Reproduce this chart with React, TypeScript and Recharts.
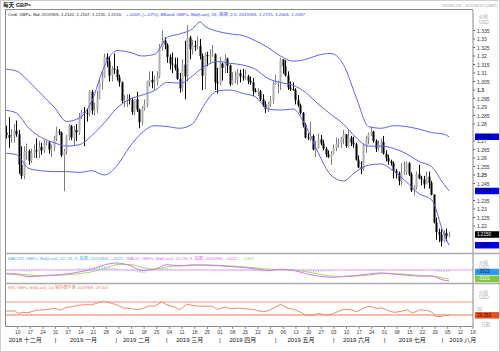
import React from "react";
import { Bar, ComposedChart, Line, ReferenceLine, XAxis, YAxis } from "recharts";

// daily candles, 2018-12-03 .. 2019-08-06 (trading days)
const opens = [
  1.2750, 1.2735, 1.2718, 1.2730, 1.2760, 1.2740, 1.2560, 1.2495, 1.2635, 1.2640,
  1.2585, 1.2630, 1.2645, 1.2640, 1.2665, 1.2645, 1.2690, 1.2692, 1.2650, 1.2660,
  1.2715, 1.2755, 1.2750, 1.2615, 1.2640, 1.2725, 1.2790, 1.2720, 1.2765, 1.2750,
  1.2840, 1.2870, 1.2865, 1.2860, 1.2990, 1.2880, 1.2885, 1.2950, 1.3045, 1.3075,
  1.3195, 1.3170, 1.3085, 1.3125, 1.3120, 1.3075, 1.3045, 1.2935, 1.2938, 1.2945,
  1.2940, 1.2870, 1.2945, 1.2885, 1.2810, 1.2895, 1.2915, 1.3050, 1.3060, 1.3045,
  1.3050, 1.3080, 1.3250, 1.3290, 1.3265, 1.3195, 1.3155, 1.3150, 1.3130, 1.3065,
  1.3010, 1.3150, 1.3080, 1.3310, 1.3240, 1.3260, 1.3255, 1.3258, 1.3200, 1.3085,
  1.3205, 1.3200, 1.3205, 1.3210, 1.3045, 1.3040, 1.3155, 1.3130, 1.3185, 1.3145,
  1.3035, 1.3060, 1.3062, 1.3100, 1.3080, 1.3075, 1.3080, 1.3055, 1.3045, 1.2995,
  1.2990, 1.2992, 1.2945, 1.2915, 1.2890, 1.2920, 1.2940, 1.3035, 1.3045, 1.3048,
  1.3180, 1.3140, 1.3085, 1.3015, 1.3005, 1.3000, 1.2940, 1.2910, 1.2865, 1.2795,
  1.2720, 1.2715, 1.2730, 1.2650, 1.2655, 1.2710, 1.2685, 1.2655, 1.2620, 1.2605,
  1.2625, 1.2660, 1.2685, 1.2690, 1.2715, 1.2740, 1.2670, 1.2720, 1.2690, 1.2680,
  1.2590, 1.2545, 1.2535, 1.2670, 1.2715, 1.2740, 1.2755, 1.2700, 1.2655, 1.2680,
  1.2695, 1.2625, 1.2600, 1.2580, 1.2570, 1.2525, 1.2510, 1.2465, 1.2515, 1.2518,
  1.2570, 1.2505, 1.2410, 1.2430, 1.2505, 1.2480, 1.2475, 1.2445, 1.2490, 1.2455,
  1.2385, 1.2220, 1.2165, 1.2150, 1.2110, 1.2160, 1.2142,
];
const highs = [
  1.2790, 1.2840, 1.2770, 1.2800, 1.2820, 1.2765, 1.2669, 1.2670, 1.2685, 1.2650,
  1.2655, 1.2680, 1.2715, 1.2700, 1.2690, 1.2705, 1.2700, 1.2700, 1.2680, 1.2730,
  1.2785, 1.2770, 1.2755, 1.2655, 1.2735, 1.2800, 1.2795, 1.2790, 1.2800, 1.2865,
  1.2885, 1.2900, 1.2890, 1.3000, 1.3000, 1.2925, 1.2995, 1.3070, 1.3110, 1.3215,
  1.3215, 1.3200, 1.3140, 1.3215, 1.3140, 1.3090, 1.3050, 1.2970, 1.2975, 1.2975,
  1.2955, 1.2945, 1.2990, 1.2890, 1.2905, 1.2945, 1.3055, 1.3110, 1.3110, 1.3085,
  1.3110, 1.3270, 1.3350, 1.3310, 1.3275, 1.3210, 1.3220, 1.3190, 1.3190, 1.3100,
  1.3180, 1.3290, 1.3380, 1.3320, 1.3295, 1.3290, 1.3315, 1.3300, 1.3215, 1.3220,
  1.3225, 1.3240, 1.3265, 1.3215, 1.3130, 1.3195, 1.3160, 1.3210, 1.3190, 1.3150,
  1.3105, 1.3110, 1.3125, 1.3120, 1.3125, 1.3120, 1.3090, 1.3080, 1.3070, 1.3010,
  1.3010, 1.3000, 1.2975, 1.2935, 1.2930, 1.2965, 1.3050, 1.3090, 1.3055, 1.3190,
  1.3180, 1.3175, 1.3110, 1.3050, 1.3045, 1.3010, 1.2970, 1.2920, 1.2870, 1.2805,
  1.2745, 1.2815, 1.2740, 1.2700, 1.2745, 1.2735, 1.2705, 1.2665, 1.2645, 1.2640,
  1.2680, 1.2720, 1.2715, 1.2725, 1.2765, 1.2740, 1.2765, 1.2730, 1.2725, 1.2690,
  1.2615, 1.2580, 1.2685, 1.2730, 1.2750, 1.2785, 1.2760, 1.2710, 1.2705, 1.2715,
  1.2730, 1.2645, 1.2620, 1.2590, 1.2580, 1.2535, 1.2520, 1.2570, 1.2580, 1.2580,
  1.2575, 1.2515, 1.2440, 1.2520, 1.2560, 1.2495, 1.2495, 1.2520, 1.2520, 1.2465,
  1.2385, 1.2250, 1.2185, 1.2180, 1.2175, 1.2185, 1.2167,
];
const lows = [
  1.2715, 1.2660, 1.2690, 1.2690, 1.2725, 1.2507, 1.2477, 1.2476, 1.2590, 1.2560,
  1.2570, 1.2600, 1.2600, 1.2600, 1.2620, 1.2630, 1.2675, 1.2625, 1.2605, 1.2640,
  1.2700, 1.2735, 1.2605, 1.2405, 1.2620, 1.2705, 1.2705, 1.2675, 1.2700, 1.2735,
  1.2830, 1.2670, 1.2815, 1.2845, 1.2855, 1.2850, 1.2865, 1.2945, 1.3000, 1.3070,
  1.3135, 1.3050, 1.3050, 1.3095, 1.3055, 1.3020, 1.2920, 1.2900, 1.2900, 1.2915,
  1.2855, 1.2850, 1.2870, 1.2775, 1.2790, 1.2880, 1.2900, 1.3020, 1.3010, 1.3000,
  1.3025, 1.3070, 1.3230, 1.3240, 1.3160, 1.3120, 1.3100, 1.3115, 1.3060, 1.2985,
  1.2990, 1.2945, 1.3050, 1.3180, 1.3210, 1.3230, 1.3240, 1.3180, 1.3000, 1.3005,
  1.3140, 1.3160, 1.3195, 1.3000, 1.2980, 1.3030, 1.3055, 1.3100, 1.3100, 1.3025,
  1.3030, 1.3040, 1.3030, 1.3045, 1.3055, 1.3060, 1.3035, 1.3030, 1.2965, 1.2985,
  1.2965, 1.2935, 1.2900, 1.2865, 1.2870, 1.2900, 1.2920, 1.3030, 1.2980, 1.3000,
  1.3095, 1.3080, 1.3000, 1.2995, 1.2995, 1.2915, 1.2900, 1.2855, 1.2780, 1.2715,
  1.2705, 1.2700, 1.2645, 1.2605, 1.2655, 1.2675, 1.2645, 1.2605, 1.2600, 1.2560,
  1.2620, 1.2640, 1.2660, 1.2660, 1.2680, 1.2660, 1.2665, 1.2670, 1.2660, 1.2585,
  1.2540, 1.2505, 1.2525, 1.2630, 1.2680, 1.2730, 1.2690, 1.2635, 1.2640, 1.2630,
  1.2620, 1.2580, 1.2560, 1.2555, 1.2480, 1.2480, 1.2440, 1.2440, 1.2500, 1.2500,
  1.2495, 1.2400, 1.2380, 1.2415, 1.2475, 1.2440, 1.2420, 1.2445, 1.2420, 1.2380,
  1.2215, 1.2120, 1.2105, 1.2080, 1.2105, 1.2110, 1.2131,
];
const closes = [
  1.2735, 1.2718, 1.2730, 1.2760, 1.2740, 1.2560, 1.2495, 1.2635, 1.2640, 1.2585,
  1.2630, 1.2645, 1.2640, 1.2665, 1.2645, 1.2690, 1.2692, 1.2650, 1.2660, 1.2715,
  1.2755, 1.2750, 1.2615, 1.2640, 1.2725, 1.2790, 1.2720, 1.2765, 1.2750, 1.2840,
  1.2870, 1.2865, 1.2860, 1.2990, 1.2880, 1.2885, 1.2950, 1.3045, 1.3075, 1.3195,
  1.3170, 1.3085, 1.3125, 1.3120, 1.3075, 1.3045, 1.2935, 1.2938, 1.2945, 1.2940,
  1.2870, 1.2945, 1.2885, 1.2810, 1.2895, 1.2915, 1.3050, 1.3060, 1.3045, 1.3050,
  1.3080, 1.3250, 1.3290, 1.3265, 1.3195, 1.3155, 1.3150, 1.3130, 1.3065, 1.3010,
  1.3150, 1.3080, 1.3310, 1.3240, 1.3260, 1.3255, 1.3258, 1.3200, 1.3085, 1.3205,
  1.3200, 1.3205, 1.3210, 1.3045, 1.3040, 1.3155, 1.3130, 1.3185, 1.3145, 1.3035,
  1.3060, 1.3062, 1.3100, 1.3080, 1.3075, 1.3080, 1.3055, 1.3045, 1.2995, 1.2990,
  1.2992, 1.2945, 1.2915, 1.2890, 1.2920, 1.2940, 1.3035, 1.3045, 1.3048, 1.3180,
  1.3140, 1.3085, 1.3015, 1.3005, 1.3000, 1.2940, 1.2910, 1.2865, 1.2795, 1.2720,
  1.2715, 1.2730, 1.2650, 1.2655, 1.2710, 1.2685, 1.2655, 1.2620, 1.2605, 1.2625,
  1.2660, 1.2685, 1.2690, 1.2715, 1.2740, 1.2670, 1.2720, 1.2690, 1.2680, 1.2590,
  1.2545, 1.2535, 1.2670, 1.2715, 1.2740, 1.2755, 1.2700, 1.2655, 1.2680, 1.2695,
  1.2625, 1.2600, 1.2580, 1.2570, 1.2525, 1.2510, 1.2465, 1.2515, 1.2518, 1.2570,
  1.2505, 1.2410, 1.2430, 1.2505, 1.2480, 1.2475, 1.2445, 1.2490, 1.2455, 1.2385,
  1.2220, 1.2165, 1.2150, 1.2110, 1.2160, 1.2140, 1.2150,
];

// Bollinger band (26, 2.0) read at sample days
const bbDays = [0, 4, 9, 14, 19, 24, 29, 34, 39, 44, 49, 54, 59, 64, 69, 74, 77, 79, 84, 89, 94, 99, 104, 109, 114, 119, 124, 129, 134, 139, 144, 149, 154, 159, 164, 169, 174, 176];
const bbUpper = [1.3122, 1.3112, 1.3050, 1.2975, 1.2900, 1.2815, 1.2835, 1.2935, 1.3140, 1.3232, 1.3222, 1.3200, 1.3210, 1.3310, 1.3330, 1.3360, 1.3400, 1.3375, 1.3345, 1.3330, 1.3320, 1.3290, 1.3250, 1.3200, 1.3170, 1.3180, 1.3205, 1.3215, 1.3150, 1.2960, 1.2785, 1.2775, 1.2790, 1.2785, 1.2770, 1.2750, 1.2740, 1.2725];
const bbMid = [1.2880, 1.2865, 1.2775, 1.2720, 1.2690, 1.2670, 1.2678, 1.2732, 1.2808, 1.2894, 1.2945, 1.2970, 1.2997, 1.3045, 1.3040, 1.3082, 1.3120, 1.3140, 1.3168, 1.3157, 1.3147, 1.3122, 1.3068, 1.3044, 1.3028, 1.2985, 1.2917, 1.2857, 1.2800, 1.2720, 1.2670, 1.2670, 1.2656, 1.2625, 1.2580, 1.2549, 1.2444, 1.2406];
const bbLower = [1.2628, 1.2620, 1.2538, 1.2525, 1.2520, 1.2520, 1.2515, 1.2525, 1.2500, 1.2555, 1.2665, 1.2750, 1.2790, 1.2785, 1.2775, 1.2800, 1.2870, 1.2920, 1.2995, 1.3000, 1.2980, 1.2960, 1.2888, 1.2882, 1.2888, 1.2790, 1.2630, 1.2500, 1.2465, 1.2520, 1.2558, 1.2565, 1.2522, 1.2460, 1.2390, 1.2355, 1.2150, 1.2087];

// MACD (12, 26, 9)
const macdDays = [0, 4, 9, 14, 19, 24, 29, 34, 39, 44, 49, 54, 59, 64, 69, 74, 79, 84, 89, 94, 99, 104, 109, 114, 119, 124, 129, 134, 139, 144, 149, 154, 159, 164, 169, 174, 176];
const macdLine = [-0.0045, -0.0050, -0.0074, -0.0066, -0.0056, -0.0044, -0.0022, 0.0008, 0.0058, 0.0078, 0.0052, -0.0005, 0.0010, 0.0060, 0.0045, 0.0058, 0.0056, 0.0049, 0.0040, 0.0029, 0.0012, -0.0006, 0.0008, -0.0004, -0.0040, -0.0068, -0.0082, -0.0072, -0.0062, -0.0046, -0.0032, -0.0046, -0.0058, -0.0069, -0.0068, -0.0115, -0.0122];
const macdSignal = [-0.0035, -0.0042, -0.0055, -0.0064, -0.0062, -0.0055, -0.0042, -0.0020, 0.0015, 0.0060, 0.0062, 0.0030, 0.0010, 0.0035, 0.0050, 0.0052, 0.0055, 0.0053, 0.0046, 0.0036, 0.0024, 0.0010, 0.0002, 0.0000, -0.0018, -0.0045, -0.0068, -0.0074, -0.0068, -0.0057, -0.0042, -0.0040, -0.0048, -0.0060, -0.0066, -0.0092, -0.0101];
const macdHist = [
  -0.0010, -0.0009, -0.0008, -0.0007, -0.0008, -0.0010, -0.0016, -0.0016, -0.0017, -0.0019,
  -0.0016, -0.0012, -0.0008, -0.0004, -0.0002, 0.0000, 0.0002, 0.0002, 0.0003, 0.0006,
  0.0008, 0.0008, 0.0004, 0.0005, 0.0011, 0.0013, 0.0010, 0.0013, 0.0013, 0.0020,
  0.0021, 0.0020, 0.0019, 0.0027, 0.0028, 0.0026, 0.0030, 0.0035, 0.0040, 0.0043,
  0.0036, 0.0030, 0.0027, 0.0022, 0.0018, 0.0012, 0.0002, -0.0004, -0.0008, -0.0010,
  -0.0015, -0.0018, -0.0024, -0.0032, -0.0035, -0.0030, -0.0018, -0.0010, -0.0004, 0.0000,
  0.0004, 0.0014, 0.0022, 0.0026, 0.0025, 0.0018, 0.0012, 0.0006, 0.0000, -0.0005,
  -0.0004, -0.0006, 0.0002, 0.0005, 0.0006, 0.0005, 0.0004, 0.0002, -0.0003, 0.0001,
  0.0001, 0.0001, 0.0001, -0.0003, -0.0004, -0.0002, -0.0003, -0.0002, -0.0003, -0.0006,
  -0.0006, -0.0007, -0.0006, -0.0007, -0.0007, -0.0007, -0.0008, -0.0009, -0.0011, -0.0012,
  -0.0012, -0.0013, -0.0015, -0.0017, -0.0016, -0.0012, -0.0005, -0.0002, 0.0000, 0.0006,
  0.0006, 0.0003, 0.0000, -0.0002, -0.0004, -0.0008, -0.0011, -0.0014, -0.0018, -0.0022,
  -0.0023, -0.0021, -0.0023, -0.0024, -0.0023, -0.0021, -0.0019, -0.0017, -0.0016, -0.0014,
  -0.0009, -0.0005, -0.0002, 0.0001, 0.0002, 0.0002, 0.0005, 0.0005, 0.0005, 0.0006,
  0.0003, 0.0001, 0.0005, 0.0009, 0.0011, 0.0013, 0.0012, 0.0010, 0.0010, 0.0010,
  0.0005, 0.0001, -0.0002, -0.0004, -0.0006, -0.0007, -0.0009, -0.0009, -0.0010, -0.0010,
  -0.0009, -0.0011, -0.0012, -0.0010, -0.0009, -0.0007, -0.0006, -0.0004, -0.0003, -0.0002,
  -0.0010, -0.0016, -0.0020, -0.0023, -0.0023, -0.0022, -0.0022,
];

// RSI (14)
const rsiDays = [0, 2, 4, 5, 7, 9, 12, 14, 17, 19, 22, 24, 27, 29, 32, 34, 37, 39, 42, 44, 47, 49, 52, 54, 57, 59, 62, 64, 67, 69, 72, 74, 77, 79, 82, 84, 87, 89, 92, 94, 97, 99, 102, 104, 107, 109, 112, 114, 117, 119, 122, 124, 127, 129, 132, 134, 137, 139, 142, 144, 147, 149, 152, 154, 157, 159, 161, 164, 167, 169, 170, 172, 174, 176];
const rsiVals = [42, 42, 43, 35, 38, 37, 44, 45, 47, 51, 45, 53, 56, 60, 62, 61, 68, 72, 66, 62, 51, 51, 47, 49, 58, 57, 70, 61, 55, 46, 63, 60, 57, 57, 57, 47, 55, 49, 51, 50, 48, 45, 40, 43, 55, 63, 50, 48, 38, 30, 30, 35, 30, 32, 42, 48, 46, 40, 52, 57, 50, 52, 42, 38, 42, 46, 36, 46, 44, 38, 27, 25, 29, 29.053];

// axis labels
const priceTicks = [1.22, 1.225, 1.23, 1.235, 1.245, 1.25, 1.255, 1.26, 1.265, 1.27, 1.28, 1.285, 1.29, 1.295, 1.3, 1.305, 1.31, 1.315, 1.32, 1.325, 1.33, 1.335];
const weekDays = [5, 10, 15, 20, 25, 30, 35, 40, 45, 50, 55, 60, 65, 70, 75, 80, 85, 90, 95, 100, 105, 110, 115, 120, 125, 130, 135, 140, 145, 150, 155, 160, 165, 170, 175, 180, 185];
const weekLabels = ["10", "17", "24", "31", "07", "14", "21", "28", "04", "11", "18", "25", "04", "11", "18", "25", "01", "08", "15", "22", "29", "06", "13", "20", "27", "03", "10", "17", "24", "01", "08", "15", "22", "29", "05", "12", "19"];
const monthDays = [8, 31, 52, 73, 94, 117, 139, 161, 181];
const monthLabels = ["2018 十二月", "2019 一月", "2019 二月", "2019 三月", "2019 四月", "2019 五月", "2019 六月", "2019 七月", "2019 八月"];
const monthSeps = [20, 44, 64, 85, 107, 130, 150, 173];

const TOTAL = 186;
const FONT = "'Liberation Sans', 'Noto Sans CJK SC', sans-serif";

interface Row {
  i: number;
  o?: number; h?: number; l?: number; c?: number;
  bbU?: number; bbM?: number; bbL?: number;
  macd?: number; sig?: number; hist?: number;
  rsi?: number;
}

const rows: Row[] = Array.from({ length: TOTAL }, (_, i) => {
  const r: Row = { i };
  if (i < closes.length) {
    r.o = opens[i]; r.h = highs[i]; r.l = lows[i]; r.c = closes[i];
    r.hist = macdHist[i];
  }
  return r;
});
bbDays.forEach((d, k) => { rows[d].bbU = bbUpper[k]; rows[d].bbM = bbMid[k]; rows[d].bbL = bbLower[k]; });
macdDays.forEach((d, k) => { rows[d].macd = macdLine[k]; rows[d].sig = macdSignal[k]; });
rsiDays.forEach((d, k) => { rows[d].rsi = rsiVals[k]; });

const fmtPrice = (v: number) => String(parseFloat(v.toFixed(3)));

function Candle(props: any) {
  const { x, y, width, height, payload } = props;
  if (!payload || payload.c == null) return null;
  const { o, h, l, c } = payload;
  const top = height < 0 ? y + height : y;
  const hh = Math.abs(height);
  const k = h === l ? 0 : hh / (h - l);
  const yO = top + (h - o) * k;
  const yC = top + (h - c) * k;
  const up = c >= o;
  const cx = Math.round(x + width / 2) + 0.5;
  const bTop = Math.min(yO, yC);
  const bH = Math.max(1, Math.abs(yO - yC));
  return (
    <g>
      <line x1={cx} x2={cx} y1={top} y2={top + hh} stroke={up ? "#7e7e7e" : "#000"} strokeWidth={1} />
      <rect x={cx - 1} y={bTop} width={2} height={bH} fill={up ? "#b0b0b0" : "#000"} />
    </g>
  );
}

function PriceTick({ x, y, payload }: any) {
  const v = payload.value;
  const bold = v === 1.3 || v === 1.25;
  return (
    <text x={x} y={y} dy={2} fontSize={5} fontFamily={FONT} fill="#333" fontWeight={bold ? 700 : 400}>
      {fmtPrice(v)}
    </text>
  );
}

function ValueTag({ viewBox, text, bg, color }: any) {
  if (!viewBox) return null;
  const x = viewBox.x + viewBox.width;
  const y = viewBox.y;
  return (
    <g>
      <rect x={x + 2} y={y - 3.25} width={25} height={6.5} fill={bg} />
      <text x={x + 4} y={y + 1.4} fontSize={4.6} fontFamily={FONT} fill={color}>{text}</text>
    </g>
  );
}

function DayTick({ x, y, payload }: any) {
  const k = weekDays.indexOf(payload.value);
  return (
    <text x={x} y={y} dy={4} textAnchor="middle" fontSize={4.8} fontFamily={FONT} fill="#333">
      {k >= 0 ? weekLabels[k] : ""}
    </text>
  );
}

function MonthTick({ x, y, payload }: any) {
  const k = monthDays.indexOf(payload.value);
  const label = k >= 0 ? monthLabels[k] : "|";
  return (
    <text x={x} y={y} dy={5} textAnchor="middle" fontSize={6} fontFamily={FONT} fill="#111">
      {label}
    </text>
  );
}

function RsiTick({ x, y, payload }: any) {
  return (
    <text x={x} y={y} dy={2} fontSize={4.6} fontFamily={FONT} fill="#aaa">{payload.value}</text>
  );
}

const BAND = "#5f5ff2";

export default function App() {
  return (
    <div style={{ position: "absolute", left: 0, top: 0, width: 500, height: 352, background: "#fff", overflow: "hidden" }}>
      <style>{`body{margin:0}`}</style>

      <div style={{ position: "absolute", left: 0, top: 0 }}>
        <ComposedChart width={500} height={253} data={rows} margin={{ top: 10, right: 0, bottom: 0, left: 5 }}>
          <XAxis dataKey="i" type="category" hide />
          <YAxis
            orientation="right"
            width={27}
            domain={[1.20412, 1.34706]}
            allowDataOverflow
            ticks={priceTicks}
            interval={0}
            tick={<PriceTick />}
            tickSize={2}
            tickMargin={2}
            tickLine={{ stroke: "#666" }}
            axisLine={{ stroke: "#888" }}
          />
          <Bar dataKey={(r: Row) => (r.c == null ? null : [r.l, r.h])} shape={<Candle />} barSize={2} isAnimationActive={false} />
          <Line dataKey="bbU" type="monotone" stroke={BAND} strokeWidth={1} dot={false} connectNulls isAnimationActive={false} />
          <Line dataKey="bbM" type="monotone" stroke={BAND} strokeWidth={1} dot={false} connectNulls isAnimationActive={false} />
          <Line dataKey="bbL" type="monotone" stroke={BAND} strokeWidth={1} dot={false} connectNulls isAnimationActive={false} />
          <ReferenceLine y={1.2725} stroke="none" label={<ValueTag text="1.2725" bg="#0000f0" color="#000" />} />
          <ReferenceLine y={1.2406} stroke="none" label={<ValueTag text="1.2406" bg="#0000f0" color="#000" />} />
          <ReferenceLine y={1.2087} stroke="none" label={<ValueTag text="1.2087" bg="#0000f0" color="#000" />} />
          <ReferenceLine y={1.215} stroke="none" label={<ValueTag text="1.2150" bg="#000" color="#fff" />} />
        </ComposedChart>
      </div>

      <div style={{ position: "absolute", left: 0, top: 253 }}>
        <ComposedChart width={500} height={30} data={rows} margin={{ top: 0, right: 0, bottom: 0, left: 5 }}>
          <XAxis dataKey="i" type="category" hide />
          <YAxis orientation="right" width={27} domain={[-0.0146, 0.0191]} allowDataOverflow tick={false} tickLine={false} axisLine={{ stroke: "#888" }} />
          <ReferenceLine y={0} stroke="#e49cf3" strokeWidth={1} />
          <Bar dataKey="hist" fill="#8fcaf4" barSize={1} isAnimationActive={false} />
          <Line dataKey="sig" type="monotone" stroke="#a3d862" strokeWidth={1} dot={false} connectNulls isAnimationActive={false} />
          <Line dataKey="macd" type="monotone" stroke="#d276ef" strokeWidth={1} dot={false} connectNulls isAnimationActive={false} />
          <ReferenceLine y={-0.0022} stroke="none" label={<ValueTag text="-.0022" bg="#2d9bf0" color="#0a1a40" />} />
          <ReferenceLine y={-0.0101} stroke="none" label={<ValueTag text="-.0101" bg="#7cc83a" color="#fff" />} />
        </ComposedChart>
      </div>

      <div style={{ position: "absolute", left: 0, top: 283 }}>
        <ComposedChart width={500} height={69} data={rows} margin={{ top: 0, right: 0, bottom: 1, left: 5 }}>
          <XAxis
            xAxisId="d"
            dataKey="i"
            type="category"
            ticks={weekDays}
            interval={0}
            height={11}
            tickSize={3}
            tickMargin={1}
            axisLine={false}
            tickLine={{ stroke: "#888" }}
            tick={<DayTick />}
          />
          <XAxis
            xAxisId="m"
            dataKey="i"
            type="category"
            ticks={[...monthDays, ...monthSeps].sort((a, b) => a - b)}
            interval={0}
            height={14}
            tickSize={0}
            tickMargin={0}
            axisLine={false}
            tickLine={false}
            tick={<MonthTick />}
          />
          <YAxis orientation="right" width={27} domain={[-3.8, 128.5]} allowDataOverflow ticks={[50]} tick={<RsiTick />} tickSize={2} tickMargin={2} tickLine={false} axisLine={{ stroke: "#888" }} />
          <ReferenceLine xAxisId="d" y={70} stroke="#f9c9bb" strokeWidth={2} />
          <ReferenceLine xAxisId="d" y={30} stroke="#f3a58e" strokeWidth={1.5} />
          <Line xAxisId="d" dataKey="rsi" type="linear" stroke="#ef8a6c" strokeWidth={1} dot={false} connectNulls isAnimationActive={false} />
          <ReferenceLine xAxisId="d" y={29.053} stroke="none" label={<ValueTag text="29.053" bg="#e8501f" color="#3a0a00" />} />
        </ComposedChart>
      </div>

      <svg width={500} height={352} style={{ position: "absolute", left: 0, top: 0, pointerEvents: "none" }} fontFamily={FONT}>
        <rect x={0.5} y={0.5} width={499} height={351} fill="none" stroke="#cfcfcf" />
        <line x1={5.5} x2={5.5} y1={9.5} y2={326.5} stroke="#8a8a8a" />
        <line x1={5} x2={473} y1={9.5} y2={9.5} stroke="#8a8a8a" />
        <line x1={5} x2={473} y1={326.5} y2={326.5} stroke="#8a8a8a" />
        <line x1={5} x2={500} y1={253.5} y2={253.5} stroke="#ababab" strokeWidth={1.5} />
        <line x1={5} x2={500} y1={283.5} y2={283.5} stroke="#ababab" strokeWidth={1.5} />

        <text x={3} y={6.5} fontSize={5.6} fontWeight={700} fill="#222">每天 GBP=</text>
        <text x={442} y={6.5} fontSize={4} fill="#a0a0a0" textLength={56} lengthAdjust="spacingAndGlyphs">2018/12/9 - 2019/8/19 (GMT)</text>

        <text x={8} y={15.5} fontSize={4} fill="#222" textLength={114} lengthAdjust="spacingAndGlyphs">
          Cndl, GBP=, Bid, 2019/8/6, 1.2142, 1.2167, 1.2131, 1.2150,
        </text>
        <text x={126} y={15.5} fontSize={4} fill="#3a3af0" textLength={179} lengthAdjust="spacingAndGlyphs">
          +.0009, (+.07%), BBand, GBP=, Bid(Last), 26, 简单, 2.0, 2019/8/6, 1.2725, 1.2406, 1.2087
        </text>
        <text x={479} y={18} fontSize={4.6} fill="#aaa">价格</text>
        <text x={479} y={23.5} fontSize={4.6} fill="#aaa">USD</text>

        <text x={8} y={259.5} fontSize={4} fill="#4aa8ea" textLength={116} lengthAdjust="spacingAndGlyphs">
          MACDP, GBP=, Bid(Last), 12, 26, 9, 指数, 2019/8/6, -.0022,
        </text>
        <text x={127} y={259.5} fontSize={4} fill="#d06ae8" textLength={111} lengthAdjust="spacingAndGlyphs">
          MACD, GBP=, Bid(Last), 12, 26, 9, 指数, 2019/8/6, -.0122,
        </text>
        <text x={242} y={259.5} fontSize={4} fill="#8fcf45" textLength={12} lengthAdjust="spacingAndGlyphs">-.0101</text>
        <text x={479} y={264} fontSize={4.6} fill="#aaa">价格</text>
        <text x={479} y={269} fontSize={4.6} fill="#aaa">USD</text>

        <text x={8} y={289} fontSize={4} fill="#ee7a58" textLength={100} lengthAdjust="spacingAndGlyphs">
          RSI, GBP=, Bid(Last), 14, 威尔德平滑, 2019/8/6, 29.053
        </text>
        <text x={479} y={293.5} fontSize={4.6} fill="#aaa">价格</text>
        <text x={479} y={299} fontSize={4.6} fill="#aaa">USD</text>

        <text x={481} y={326} fontSize={4.4} fill="#aaa">日期</text>
      </svg>
    </div>
  );
}
